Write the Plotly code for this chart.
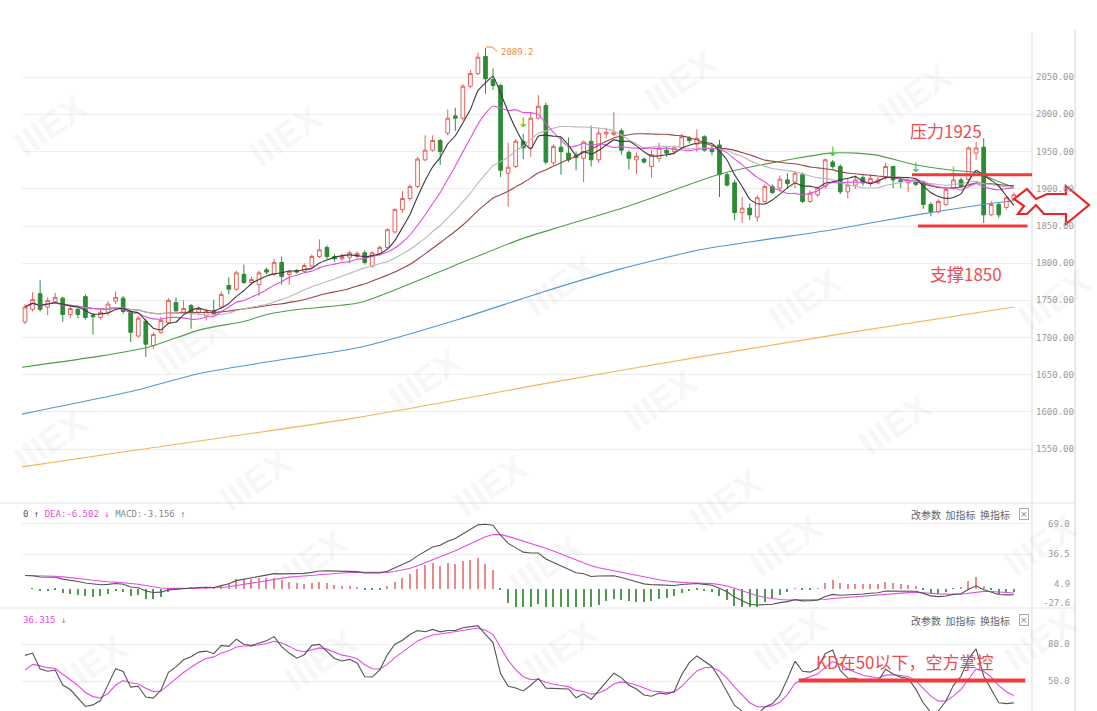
import plotly.graph_objects as go
import pandas as pd
import numpy as np

W, H = 1097, 711
def px(x): return x / W
def py(y): return 1 - y / H

# ---------------- data ----------------
opens = [1721,1738,1759,1741,1748,1753,1731,1738,1755,1730,
         1727,1734,1749,1753,1735,1702,1722,1689,1707,1720,
         1747,1734,1743,1734,1729,1735,1741,1770,1765,1785,
         1774,1771,1791,1785,1801,1785,1790,1789,1796,1809,
         1821,1809,1806,1808,1809,1814,1796,1812,1821,1842,
         1872,1887,1903,1939,1952,1965,1975,1998,1995,2038,
         2055,2078,2047,2039,1921,1930,1964,1955,1995,2012,
         1935,1956,1948,1945,1941,1964,1939,1974,1973,1978,
         1949,1939,1940,1930,1941,1952,1950,1955,1968,1960,
         1970,1953,1959,1919,1908,1868,1874,1862,1883,1903,
         1901,1912,1909,1919,1883,1892,1903,1936,1930,1896,
         1905,1915,1908,1908,1916,1930,1912,1908,1910,1909,
         1879,1869,1879,1901,1912,1912,1948,1956,1865,1879,
         1875,1886]
highs = [1745,1761,1777,1754,1760,1755,1742,1740,1758,1733,
         1737,1749,1762,1756,1738,1729,1725,1707,1728,1753,
         1754,1750,1745,1742,1739,1751,1762,1781,1790,1798,
         1782,1790,1794,1806,1809,1791,1792,1800,1812,1832,
         1824,1812,1813,1817,1816,1817,1816,1824,1847,1874,
         1897,1906,1943,1972,1972,1967,2007,2009,2041,2060,
         2083,2089.2,2062,2041,1962,1967,1974,2003,2026,2016,
         1960,1970,1969,1950,1965,1985,1982,1982,2003,1981,
         1952,1949,1942,1952,1962,1956,1958,1974,1971,1980,
         1972,1958,1966,1922,1912,1889,1880,1891,1906,1906,
         1918,1921,1924,1922,1898,1903,1941,1939,1933,1914,
         1918,1918,1920,1916,1935,1931,1915,1913,1912,1911,
         1882,1886,1901,1921,1915,1957,1963,1968,1884,1882,
         1890,1895]
lows = [1718,1735,1735,1730,1745,1721,1726,1726,1724,1704,
        1724,1730,1745,1732,1694,1700,1674,1685,1705,1718,
        1734,1732,1712,1730,1723,1730,1738,1758,1763,1772,
        1772,1756,1785,1783,1771,1771,1786,1787,1794,1807,
        1805,1802,1803,1800,1806,1798,1794,1810,1819,1840,
        1868,1884,1901,1937,1950,1932,1972,1978,1992,2035,
        2053,2028,2033,1916,1876,1928,1940,1943,1993,1933,
        1932,1919,1936,1925,1909,1930,1935,1968,1971,1946,
        1926,1920,1934,1915,1936,1943,1946,1953,1961,1950,
        1950,1945,1889,1903,1858,1854,1858,1856,1881,1893,
        1896,1900,1901,1881,1881,1889,1900,1927,1893,1887,
        1900,1904,1903,1906,1912,1901,1901,1896,1903,1873,
        1863,1867,1877,1899,1901,1906,1939,1854,1863,1861,
        1872,1884]
closes = [1741,1751,1738,1750,1754,1731,1739,1731,1727,1728,
          1734,1745,1754,1735,1707,1726,1691,1704,1723,1750,
          1736,1739,1734,1739,1735,1732,1758,1765,1787,1774,
          1778,1787,1788,1801,1782,1789,1788,1797,1809,1818,
          1809,1806,1809,1814,1813,1801,1814,1821,1845,1872,
          1887,1903,1940,1952,1965,1950,1995,1995,2038,2055,
          2077,2048,2039,1925,1929,1964,1955,1995,2011,1936,
          1957,1950,1939,1942,1963,1939,1975,1976,1976,1952,
          1941,1944,1936,1946,1955,1948,1955,1970,1965,1968,
          1952,1950,1919,1905,1868,1874,1865,1888,1903,1895,
          1913,1907,1921,1883,1894,1901,1939,1930,1896,1905,
          1912,1908,1914,1912,1930,1912,1910,1911,1906,1879,
          1869,1883,1899,1912,1903,1955,1955,1865,1879,1865,
          1888,1892]

# long moving averages (candle index, price)
ma60_idx = [-0.4, 9.9, 16.3, 23.4, 29.1, 32, 36.4, 44.4, 56.7, 65.6, 70.9, 79.7,
            91.8, 97.4, 106.6, 110.2, 113, 117.6, 122.9, 126.1, 128.2, 131]
ma60_val = [1660, 1675, 1687, 1711, 1722, 1731, 1738, 1747, 1796, 1832, 1849, 1876,
            1919, 1932, 1948, 1948, 1945, 1933, 1925, 1922, 1913, 1902]
ma120_idx = [-0.4, 14.3, 23.2, 32, 44.4, 57.6, 68.2, 78.8, 89.4, 98.3, 107, 118.1, 126.9, 131]
ma120_val = [1597, 1628, 1652, 1667, 1687, 1725, 1760, 1792, 1818, 1832, 1845, 1865, 1879, 1884]
ma250_idx = [-0.4, 14.3, 44.4, 70, 89.4, 110, 131]
ma250_val = [1526, 1548, 1593, 1640, 1674, 1708, 1741]

# indicator starting states read at the left edge
dif_start, dea_start = 14.0, 14.0
k_start, d_start = 64.0, 53.0

price_ticks = [1550, 1600, 1650, 1700, 1750, 1800, 1850, 1900, 1950, 2000, 2050]
macd_ticks = [69.0, 36.5, 4.9]
macd_labels = ["69.0", "36.5", "4.9", "-27.6"]
kd_ticks = [80.0, 50.0]

# arrows (sell marks) : candle index, price
sig_idx = [66, 107, 118, 123]
sig_val = [1987, 1949, 1927, 1922]

# ---------------- indicators ----------------
n = len(closes)
idx = list(range(n))
c = pd.Series(closes, dtype=float)
ma5 = c.rolling(5, min_periods=1).mean()
ma10 = c.rolling(10, min_periods=1).mean()
ma20 = c.rolling(20, min_periods=1).mean()
ma30 = c.rolling(30, min_periods=1).mean()

e12 = closes[0]
e26 = closes[0] - dif_start
dif = [dif_start]
dea = [dea_start]
for i in range(1, n):
    e12 = e12 * 11 / 13 + closes[i] * 2 / 13
    e26 = e26 * 25 / 27 + closes[i] * 2 / 27
    d = e12 - e26
    dif.append(d)
    dea.append(dea[-1] * 0.8 + d * 0.2)
dif = np.array(dif); dea = np.array(dea)
hist = 2 * (dif - dea)

hh = pd.Series(highs, dtype=float).rolling(9, min_periods=1).max()
ll = pd.Series(lows, dtype=float).rolling(9, min_periods=1).min()
rsv = ((c - ll) / (hh - ll) * 100).fillna(50)
K, D = [], []
kp, dp = k_start, d_start
for r in rsv:
    kp = kp * 2 / 3 + r / 3
    dp = dp * 2 / 3 + kp / 3
    K.append(kp); D.append(dp)

# ---------------- figure ----------------
fig = go.Figure()

fig.add_trace(go.Candlestick(
    x=idx, open=opens, high=highs, low=lows, close=closes,
    increasing=dict(line=dict(color='#e8605c', width=1), fillcolor='#ffffff'),
    decreasing=dict(line=dict(color='#2e8b36', width=1), fillcolor='#2e8b36'),
    whiskerwidth=0, hoverinfo='skip', xaxis='x', yaxis='y'))

for xs, ys, col in [(ma250_idx, ma250_val, '#f5b55c'),
                    (ma120_idx, ma120_val, '#4f97d8'),
                    (ma60_idx, ma60_val, '#4e9e4a')]:
    fig.add_trace(go.Scatter(x=xs, y=ys, mode='lines', line=dict(color=col, width=1.1, shape='spline', smoothing=0.6),
                             hoverinfo='skip', xaxis='x', yaxis='y'))
for ser, col in [(ma30, '#9a4444'), (ma20, '#b9b9b9'), (ma10, '#e34fe3'), (ma5, '#3c3c3c')]:
    fig.add_trace(go.Scatter(x=idx, y=ser, mode='lines', line=dict(color=col, width=1.1, shape='spline', smoothing=0.4),
                             hoverinfo='skip', xaxis='x', yaxis='y'))

fig.add_trace(go.Scatter(x=sig_idx, y=sig_val, mode='text', text=['↓'] * len(sig_idx),
                         textfont=dict(color='#36c936', size=13, family='DejaVu Sans'),
                         hoverinfo='skip', xaxis='x', yaxis='y'))

# MACD
fig.add_trace(go.Bar(x=idx, y=hist, width=0.16,
                     marker=dict(color=['#e88a8a' if h >= 0 else '#4f9a4f' for h in hist], line=dict(width=0)),
                     hoverinfo='skip', xaxis='x2', yaxis='y2'))
fig.add_trace(go.Scatter(x=idx, y=dea, mode='lines', line=dict(color='#e64be6', width=1.1),
                         hoverinfo='skip', xaxis='x2', yaxis='y2'))
fig.add_trace(go.Scatter(x=idx, y=dif, mode='lines', line=dict(color='#555555', width=1.1),
                         hoverinfo='skip', xaxis='x2', yaxis='y2'))
# KD
fig.add_trace(go.Scatter(x=idx, y=D, mode='lines', line=dict(color='#e64be6', width=1.1),
                         hoverinfo='skip', xaxis='x3', yaxis='y3'))
fig.add_trace(go.Scatter(x=idx, y=K, mode='lines', line=dict(color='#555555', width=1.1),
                         hoverinfo='skip', xaxis='x3', yaxis='y3'))

xr = [-0.4, 133.4]
xdom = [px(22), px(1032)]
common_x = dict(domain=xdom, range=xr, showticklabels=False, showgrid=False, zeroline=False, showline=False, ticks='')
grid = '#eeeeee'
fig.update_layout(
    width=W, height=H, margin=dict(l=0, r=0, t=0, b=0),
    paper_bgcolor='white', plot_bgcolor='white', showlegend=False, hovermode=False,
    bargap=0,
    xaxis=dict(**common_x, anchor='y', rangeslider=dict(visible=False)),
    xaxis2=dict(**common_x, anchor='y2', matches='x'),
    xaxis3=dict(**common_x, anchor='y3', matches='x'),
    yaxis=dict(domain=[py(500), py(30)], range=[1481.5, 2113.6], tickvals=price_ticks, showticklabels=False,
               gridcolor=grid, gridwidth=1, zeroline=False, ticks=''),
    yaxis2=dict(domain=[py(607), py(503)], range=[-19.7, 91.4], tickvals=macd_ticks[:2], showticklabels=False,
                gridcolor=grid, zeroline=False, ticks=''),
    yaxis3=dict(domain=[0, py(608)], range=[25.35, 110], tickvals=kd_ticks, showticklabels=False,
                gridcolor=grid, zeroline=False, ticks=''),
)

shapes = []
def pline(x0, y0, x1, y1, color, width):
    shapes.append(dict(type='line', xref='paper', yref='paper', x0=px(x0), y0=py(y0), x1=px(x1), y1=py(y1),
                       line=dict(color=color, width=width), layer='above'))
pline(1032, 33, 1032, 711, '#d9d9d9', 1)
pline(1075, 30, 1075, 711, '#d0d0d0', 1)
pline(0, 503, 1075, 503, '#e4e4e4', 1)
pline(0, 608, 1075, 608, '#e4e4e4', 1)

red = '#f23a3a'
shapes.append(dict(type='line', xref='x', yref='y', x0=117.5, x1=133.4, y0=1919, y1=1919, line=dict(color=red, width=3)))
shapes.append(dict(type='line', xref='x', yref='y', x0=118.3, x1=132.8, y0=1850, y1=1850, line=dict(color=red, width=3)))
shapes.append(dict(type='line', xref='x3', yref='y3', x0=102.5, x1=132.5, y0=50.5, y1=50.5, line=dict(color=red, width=4)))

# broken red arrow (pixel outline)
arrow_pts = [(1014, 199), (1027, 189), (1036, 199), (1047, 194), (1066, 194), (1066, 186), (1089, 205),
             (1066, 224), (1066, 214), (1044, 214), (1036, 205), (1027, 214), (1018, 214), (1024, 206)]
path = 'M ' + ' L '.join(f'{px(x):.5f},{py(y):.5f}' for x, y in arrow_pts) + ' Z'
shapes.append(dict(type='path', xref='paper', yref='paper', path=path, fillcolor='white',
                   line=dict(color='#ee2222', width=2.2), layer='above'))
# leader for max label
shapes.append(dict(type='path', xref='paper', yref='paper',
                   path=f'M {px(486):.5f},{py(47):.5f} L {px(492):.5f},{py(47):.5f} L {px(497):.5f},{py(51):.5f}',
                   line=dict(color='#f0883e', width=1)))
fig.update_layout(shapes=shapes)

ann = []
# watermarks
wm = [(50, 125), (285, 135), (680, 80), (915, 95), (560, 285), (805, 300), (1055, 300), (190, 345),
      (425, 380), (660, 400), (895, 425), (50, 440), (255, 480), (490, 485), (725, 500), (310, 560),
      (545, 565), (785, 545), (1040, 545), (320, 660), (560, 650), (790, 640), (1040, 640), (90, 665)]
for x, y in wm:
    ann.append(dict(xref='paper', yref='paper', x=px(x), y=py(y), text='<b>IIIEX</b>', showarrow=False,
                    xanchor='center', yanchor='middle', textangle=-35,
                    font=dict(family='Liberation Sans', size=36, color='rgba(170,170,170,0.11)')))

mono = 'DejaVu Sans Mono'
for v in price_ticks:
    yy = 77.3 + (2050 - v) / 1.345
    ann.append(dict(xref='paper', yref='paper', x=px(1034), y=py(yy), text=f'{v:.2f}', showarrow=False,
                    xanchor='left', yanchor='middle', font=dict(family=mono, size=9, color='#9a9a9a')))
for v, lab in zip([69.0, 36.5, 4.9, None], macd_labels):
    yy = 588.6 - v * 0.936 if v is not None else 603
    ann.append(dict(xref='paper', yref='paper', x=px(1072), y=py(yy), text=lab, showarrow=False,
                    xanchor='right', yanchor='middle', font=dict(family=mono, size=9, color='#9a9a9a')))
for v in kd_ticks:
    yy = 681 - (v - 50) * 1.217
    ann.append(dict(xref='paper', yref='paper', x=px(1072), y=py(yy), text=f'{v:.1f}', showarrow=False,
                    xanchor='right', yanchor='middle', font=dict(family=mono, size=9, color='#9a9a9a')))

ann.append(dict(xref='paper', yref='paper', x=px(21), y=py(514), xanchor='left', yanchor='middle', showarrow=False,
                text='<span style="color:#555">0 ↑ </span><span style="color:#e64be6">DEA:-6.502 ↓ </span>'
                     '<span style="color:#888">MACD:-3.156 ↑</span>',
                font=dict(family=mono, size=9)))
ann.append(dict(xref='paper', yref='paper', x=px(21), y=py(620), xanchor='left', yanchor='middle', showarrow=False,
                text='36.315 ↓', font=dict(family=mono, size=9, color='#e64be6')))
for yy in (514, 620):
    ann.append(dict(xref='paper', yref='paper', x=px(1012), y=py(yy), xanchor='right', yanchor='middle',
                    showarrow=False, text='改参数  加指标  换指标',
                    font=dict(family='Noto Sans CJK SC', size=10, color='#666666')))
    ann.append(dict(xref='paper', yref='paper', x=px(1024), y=py(yy), xanchor='center', yanchor='middle',
                    showarrow=False, text='×', bordercolor='#aaaaaa', borderwidth=1, borderpad=0,
                    font=dict(family='DejaVu Sans', size=9, color='#888888')))

ann.append(dict(xref='paper', yref='paper', x=px(499), y=py(52), xanchor='left', yanchor='middle', showarrow=False,
                text='2089.2', font=dict(family=mono, size=9, color='#f0883e')))

txt_red = '#ec4b50'
cjk = 'Noto Sans CJK SC'
for x, y, t in [(946, 130, '压力1925'), (966, 273, '支撑1850'), (905, 661, 'KD在50以下，空方掌控')]:
    ann.append(dict(xref='paper', yref='paper', x=px(x), y=py(y), text=t, showarrow=False,
                    xanchor='center', yanchor='middle', font=dict(family=cjk, size=17, color=txt_red)))
fig.update_layout(annotations=ann)

fig.write_html('out.html', config={'displayModeBar': False},
               post_script="document.body.style.margin='0px';")
